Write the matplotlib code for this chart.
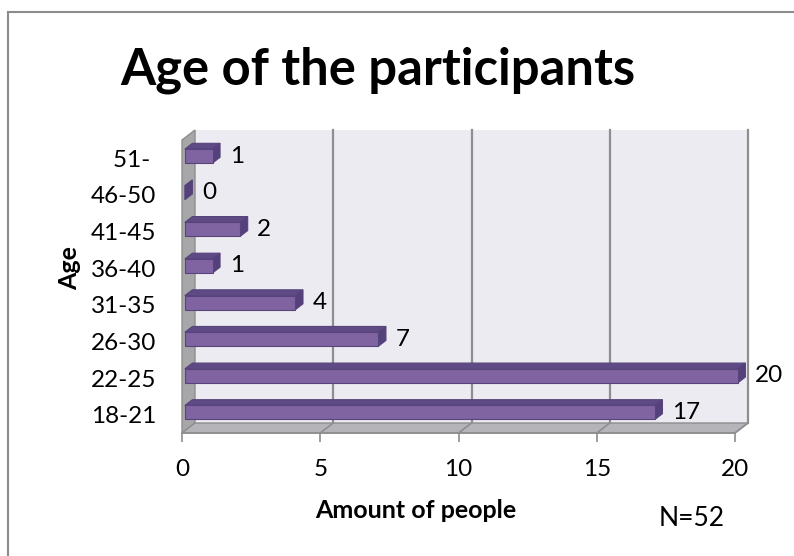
import matplotlib.pyplot as plt
from matplotlib.patches import Polygon
from matplotlib.lines import Line2D

# age groups and how many people fell into each
age_groups = ["18-21", "22-25", "26-30", "31-35", "36-40", "41-45", "46-50", "51- "]
counts = [17, 20, 7, 4, 1, 2, 0, 1]
x_ticks = [0, 5, 10, 15, 20]

plt.rcParams['font.family'] = ['Lato', 'DejaVu Sans']

fig = plt.figure(figsize=(7.94, 5.56), dpi=100)
W, H = 794, 556
# front plane of the 3d box
ax = fig.add_axes([182 / W, 1 - 433 / H, 553 / W, 293 / H])
ax.set_xlim(0, 20)
ax.set_ylim(-0.5, 7.5)

px = 553 / 20      # pixels per unit on x
py = 293 / 8       # pixels per category
DX, DY = 13 / px, 10 / py          # depth of the box
d0, d1 = 0.22, 0.8                 # bars sit inside this slice of the depth
bar_h = 14 / py

wall = '#EDEBF2'
side_wall = '#A7A7A9'
floor = '#B5B4B9'
grid = '#8E8E8E'

# back wall, left wall and floor
ax.add_patch(Polygon([(DX, -0.5 + DY), (20 + DX, -0.5 + DY), (20 + DX, 7.5 + DY), (DX, 7.5 + DY)],
                     closed=True, fc=wall, ec='none', clip_on=False, zorder=0))
ax.add_patch(Polygon([(0, -0.5), (DX, -0.5 + DY), (DX, 7.5 + DY), (0, 7.5)],
                     closed=True, fc=side_wall, ec=grid, lw=1.0, clip_on=False, zorder=1))
ax.add_patch(Polygon([(0, -0.5), (20, -0.5), (20 + DX, -0.5 + DY), (DX, -0.5 + DY)],
                     closed=True, fc=floor, ec=grid, lw=1.0, clip_on=False, zorder=1))

# gridlines on the back wall and across the floor
for t in x_ticks[1:]:
    ax.plot([t + DX, t + DX], [-0.5 + DY, 7.5 + DY], color=grid, lw=1.6, clip_on=False, zorder=0.5)
    ax.plot([t, t + DX], [-0.5, -0.5 + DY], color=grid, lw=1.2, clip_on=False, zorder=1.5)

front_c = '#8064A2'
top_c = '#5E4A84'
side_c = '#54407A'
edge_c = '#56447A'

for i, v in enumerate(counts):
    x0, y0 = d0 * DX, i - bar_h / 2 + d0 * DY
    y1 = y0 + bar_h
    ex, ey = (d1 - d0) * DX, (d1 - d0) * DY
    top = Polygon([(x0, y1), (x0 + v, y1), (x0 + v + ex, y1 + ey), (x0 + ex, y1 + ey)],
                  closed=True, fc=top_c, ec=edge_c, lw=0.8, clip_on=False, zorder=3)
    side = Polygon([(x0 + v, y0), (x0 + v + ex, y0 + ey), (x0 + v + ex, y1 + ey), (x0 + v, y1)],
                   closed=True, fc=side_c, ec=edge_c, lw=0.8, clip_on=False, zorder=3)
    ax.add_patch(top)
    ax.add_patch(side)
    if v > 0:
        ax.add_patch(Polygon([(x0, y0), (x0 + v, y0), (x0 + v, y1), (x0, y1)],
                             closed=True, fc=front_c, ec=edge_c, lw=0.8, clip_on=False, zorder=4))
    ax.text(v + 20 / px, i + d0 * DY, str(v), ha='left', va='center',
            fontsize=17.5, color='black', zorder=5)

for s in ['top', 'right', 'left']:
    ax.spines[s].set_visible(False)
ax.spines['bottom'].set_color(grid)
ax.spines['bottom'].set_linewidth(1.2)
ax.set_facecolor('none')

ax.set_xticks(x_ticks)
ax.set_xticklabels([str(t) for t in x_ticks])
ax.set_yticks(range(len(age_groups)))
ax.set_yticklabels(age_groups)
ax.tick_params(axis='x', direction='out', length=6.5, width=1.2, color=grid, pad=12, labelsize=17.5)
ax.tick_params(axis='y', length=0, pad=18.5, labelsize=17.5)

xl = ax.set_xlabel("Amount of people", fontsize=18, fontweight='bold', va='center')
ax.xaxis.set_label_coords((416 - 182) / 553, (433 - 510) / 293)
yl = ax.set_ylabel("Age", fontsize=18, fontweight='bold', va='center')
ax.yaxis.set_label_coords((70 - 182) / 553, (433 - 268) / 293)

fig.text(378 / W, 1 - 84 / H, "Age of the participants", ha='center', va='baseline',
         fontsize=36.5, fontweight='bold')
fig.text(659 / W, 1 - 518 / H, "N=52", ha='left', va='center', fontsize=19)

# chart frame
fig.add_artist(Line2D([8 / W, 8 / W], [0, 1 - 12 / H], color='#8C8C8C', lw=1.5))
fig.add_artist(Line2D([8 / W, 1], [1 - 12 / H, 1 - 12 / H], color='#8C8C8C', lw=1.5))

fig.savefig("out.png", dpi=100)
